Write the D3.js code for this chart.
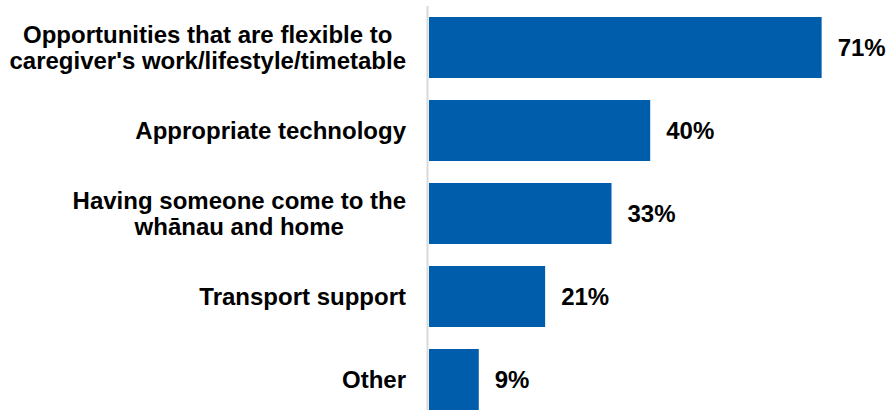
<!DOCTYPE html>
<html>
<head>
<meta charset="utf-8">
<script src="https://cdn.jsdelivr.net/npm/d3@7"></script>
<style>
  html, body { margin: 0; padding: 0; background: #fff; }
  svg { display: block; }
  text { font-family: "Liberation Sans", Arial, sans-serif; font-weight: bold; fill: #000; }
</style>
</head>
<body>
<svg id="chart" width="886" height="410"></svg>
<script>
// Support options, one entry per bar (multi-line labels split into lines)
const categories = [
  ["Opportunities that are flexible to", "caregiver's work/lifestyle/timetable"],
  ["Appropriate technology"],
  ["Having someone come to the", "whānau and home"],
  ["Transport support"],
  ["Other"]
];
const values = [71, 40, 33, 21, 9];

const width = 886, height = 410;
const barColor = "#005DAB";
const svg = d3.select("#chart");

const ids = categories.map((c, i) => i);
const y = d3.scaleBand()
  .domain(ids)
  .range([6, 6 + 83 * ids.length])
  .paddingInner(0.265)
  .paddingOuter(0.1325);

const x = d3.scaleLinear().domain([0, 100]).range([429, 429 + 553]);

// vertical category axis line
svg.append("line")
  .attr("x1", 427.5).attr("x2", 427.5)
  .attr("y1", 6).attr("y2", height)
  .attr("stroke", "#d9d9d9").attr("stroke-width", 2);

// bars
svg.selectAll("rect.bar")
  .data(ids)
  .join("rect")
  .attr("class", "bar")
  .attr("x", x(0))
  .attr("y", i => y(i))
  .attr("width", i => x(values[i]) - x(0))
  .attr("height", y.bandwidth())
  .attr("fill", barColor);

// value labels
svg.selectAll("text.val")
  .data(ids)
  .join("text")
  .attr("class", "val")
  .attr("x", i => x(values[i]) + 16)
  .attr("y", i => y(i) + y.bandwidth() / 2)
  .attr("dy", "0.35em")
  .style("font-size", "24px")
  .text(i => values[i] + "%");

// category labels: lines centred on each other, block right-aligned to the axis
const lineH = 26.5;
const rightEdge = 406;
ids.forEach(i => {
  const lines = categories[i];
  const g = svg.append("g");
  const cy = y(i) + y.bandwidth() / 2;
  const texts = lines.map((l, k) => g.append("text")
    .style("font-size", "24px")
    .attr("text-anchor", "middle")
    .attr("y", cy + (k - (lines.length - 1) / 2) * lineH)
    .attr("dy", "0.35em")
    .text(l));
  const maxW = d3.max(texts, t => t.node().getComputedTextLength());
  texts.forEach(t => t.attr("x", rightEdge - maxW / 2));
});
</script>
</body>
</html>
